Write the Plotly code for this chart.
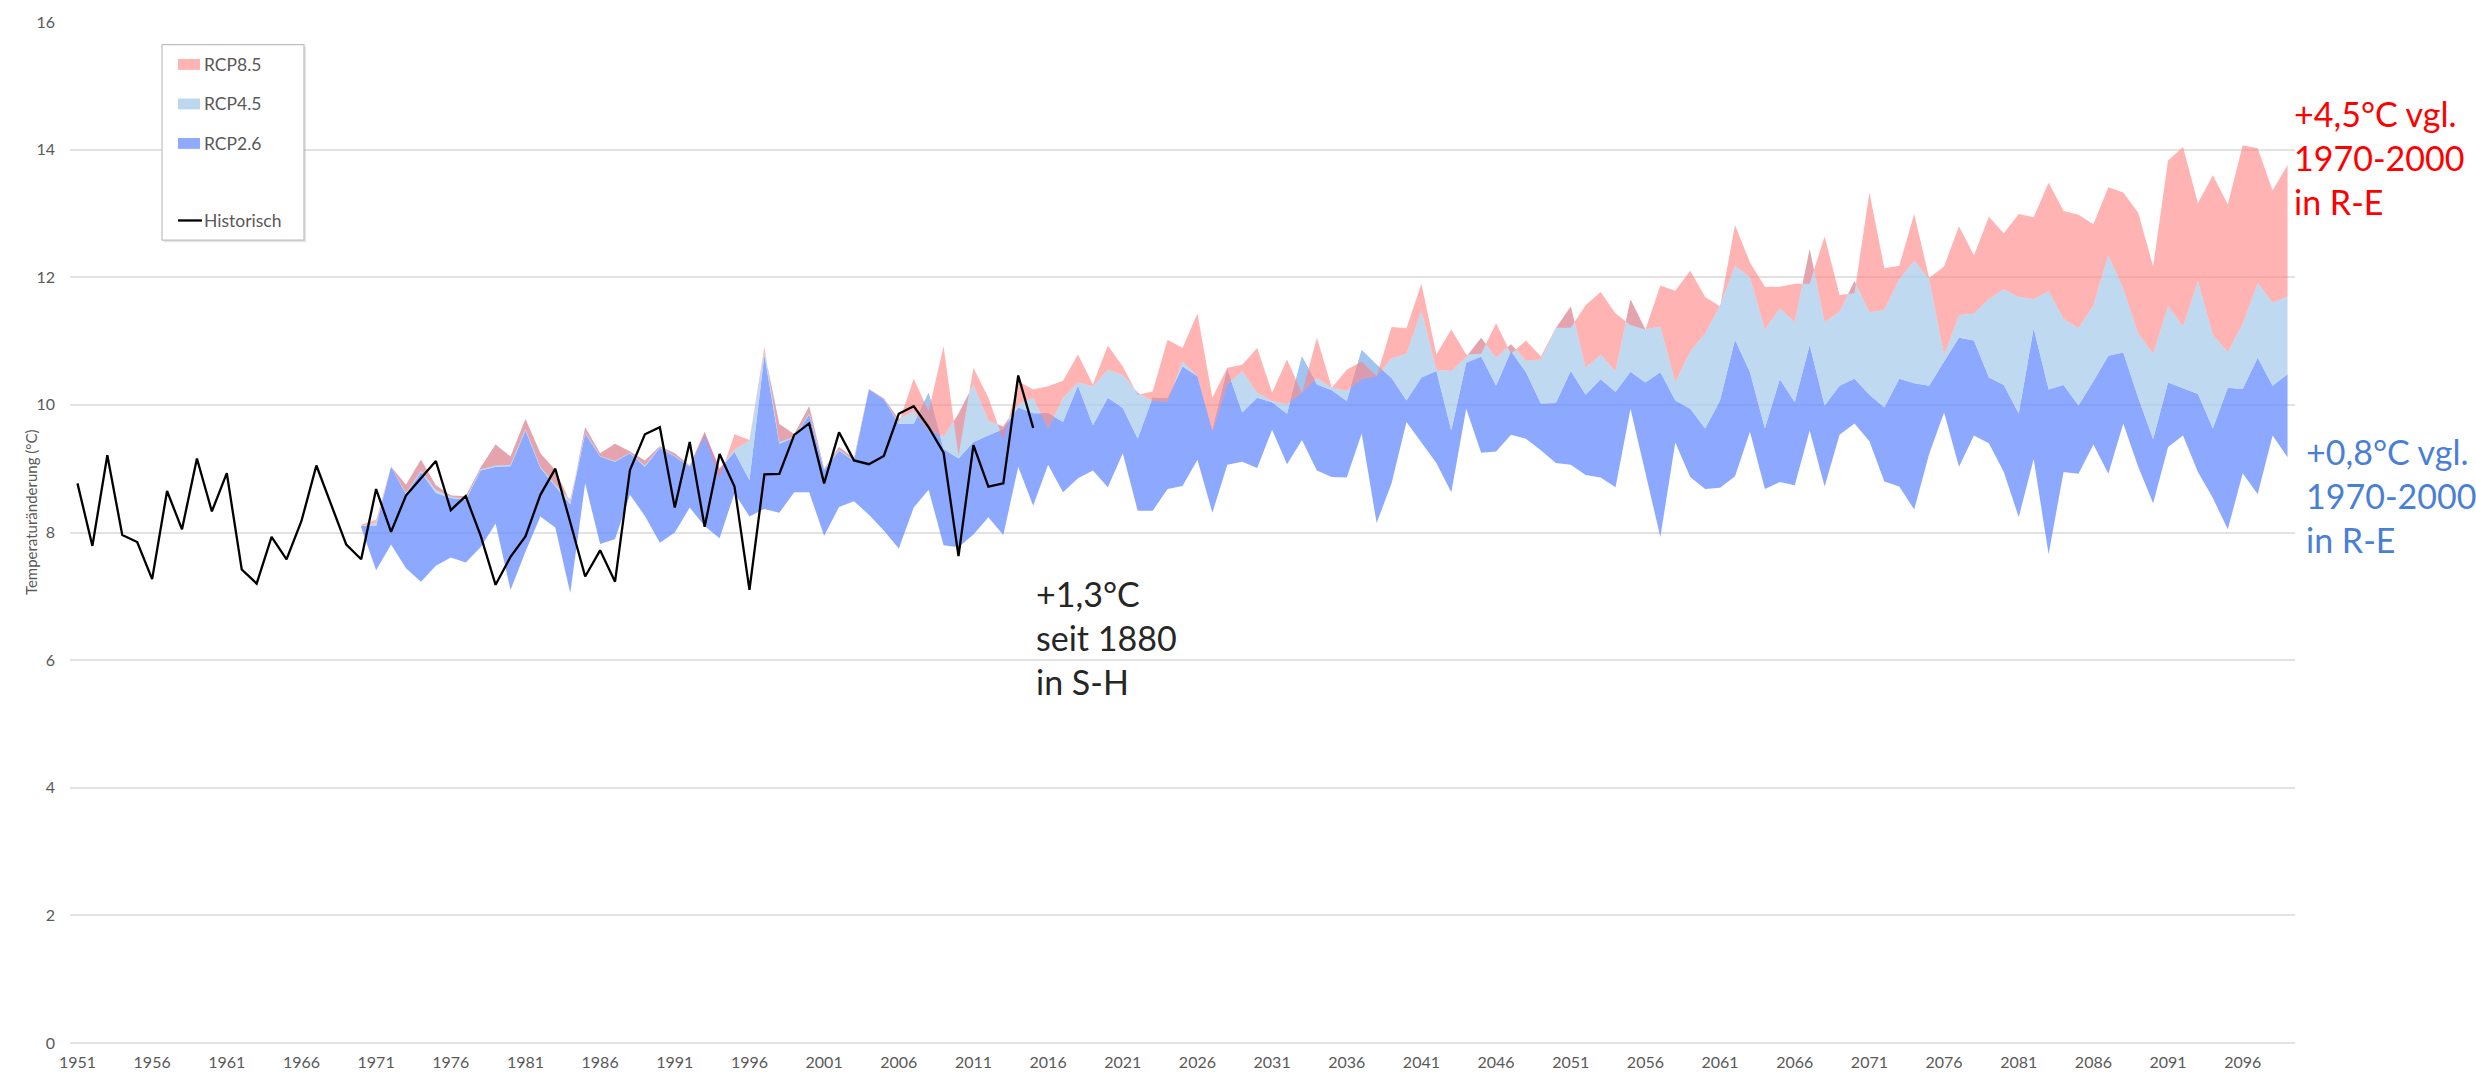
import plotly.graph_objects as go

# ---------------- data ----------------
hist_years = list(range(1951, 2016))
hist_values = [
    8.77, 7.79, 9.21, 7.96, 7.85, 7.27, 8.65, 8.05, 9.16, 8.33,
    8.93, 7.42, 7.20, 7.93, 7.58, 8.18, 9.05, 8.42, 7.81, 7.58,
    8.68, 8.01, 8.58, 8.85, 9.12, 8.35, 8.57, 7.95, 7.18, 7.62,
    7.94, 8.59, 9.00, 8.16, 7.31, 7.72, 7.23, 8.98, 9.54, 9.65,
    8.39, 9.42, 8.09, 9.23, 8.72, 7.10, 8.91, 8.92, 9.53, 9.71,
    8.77, 9.57, 9.13, 9.07, 9.20, 9.86, 9.98, 9.65, 9.25, 7.63,
    9.37, 8.72, 8.77, 10.46, 9.64,
]

band_years = list(range(1970, 2100))

# stacked edges (Excel stacked area): base = lower bound of RCP2.6,
# then top of RCP2.6 layer, top of RCP4.5 layer, top of RCP8.5 layer
rcp26_lower = [
    8.08, 7.41, 7.81, 7.44, 7.23, 7.48, 7.61, 7.53, 7.77, 8.14,
    7.10, 7.70, 8.25, 8.08, 7.05, 8.77, 7.82, 7.90, 8.59, 8.26,
    7.84, 8.00, 8.39, 8.10, 7.91, 8.62, 8.25, 8.37, 8.31, 8.63,
    8.63, 7.95, 8.40, 8.49, 8.28, 8.03, 7.75, 8.39, 8.67, 7.80,
    7.77, 7.97, 8.24, 7.96, 9.03, 8.42, 9.06, 8.63, 8.85, 8.97,
    8.71, 9.24, 8.34, 8.34, 8.68, 8.73, 9.14, 8.31, 9.06, 9.11,
    9.01, 9.61, 9.07, 9.45, 8.97, 8.87, 8.86, 9.55, 8.15, 8.77,
    9.73, 9.40, 9.09, 8.63, 9.94, 9.25, 9.27, 9.53, 9.47, 9.29,
    9.09, 9.06, 8.90, 8.86, 8.71, 9.94, 8.96, 7.93, 9.41, 8.87,
    8.68, 8.70, 8.88, 9.58, 8.68, 8.79, 8.74, 9.60, 8.72, 9.53,
    9.71, 9.43, 8.80, 8.72, 8.36, 9.23, 9.88, 9.03, 9.52, 9.40,
    8.95, 8.24, 9.15, 7.66, 8.95, 8.92, 9.38, 8.92, 9.71, 9.03,
    8.46, 9.34, 9.52, 8.95, 8.54, 8.05, 8.93, 8.60, 9.52, 9.18,
]
rcp26_upper = [
    8.10, 8.10, 9.03, 8.60, 8.95, 8.62, 8.54, 8.51, 8.97, 9.03,
    9.04, 9.60, 9.01, 8.72, 8.44, 9.55, 9.19, 9.11, 9.24, 9.03,
    9.33, 9.19, 9.03, 9.55, 9.00, 9.26, 8.82, 10.78, 9.39, 9.49,
    9.85, 8.98, 9.28, 9.12, 10.24, 10.09, 9.70, 9.70, 10.19, 9.31,
    9.16, 9.42, 9.52, 9.62, 9.96, 9.87, 9.87, 9.73, 10.30, 9.68,
    10.11, 9.95, 9.47, 10.11, 10.10, 10.60, 10.45, 9.60, 10.55, 9.88,
    10.11, 10.04, 9.86, 10.76, 10.32, 10.23, 10.06, 10.86, 10.63, 10.42,
    10.07, 10.43, 10.53, 9.60, 10.66, 10.76, 10.30, 10.84, 10.51, 10.02,
    10.03, 10.53, 10.16, 10.40, 10.20, 10.52, 10.35, 10.51, 10.07, 9.94,
    9.63, 10.07, 11.02, 10.51, 9.63, 10.40, 10.04, 10.94, 9.99, 10.30,
    10.41, 10.16, 9.96, 10.41, 10.34, 10.30, 10.68, 11.05, 11.01, 10.43,
    10.31, 9.86, 11.20, 10.24, 10.31, 9.99, 10.37, 10.77, 10.82, 10.11,
    9.46, 10.35, 10.26, 10.17, 9.63, 10.27, 10.25, 10.74, 10.30, 10.48,
]
rcp45_upper = [
    8.10, 8.15, 9.03, 8.75, 9.14, 8.74, 8.58, 8.57, 9.02, 9.38,
    9.19, 9.78, 9.24, 8.98, 8.47, 9.65, 9.24, 9.39, 9.27, 9.13,
    9.35, 9.24, 9.05, 9.58, 9.00, 9.30, 9.44, 10.84, 9.70, 9.54,
    9.98, 9.00, 9.34, 9.16, 10.25, 10.10, 9.78, 9.90, 9.60, 9.50,
    9.86, 10.32, 9.75, 9.66, 10.01, 10.11, 9.62, 10.11, 10.35, 10.29,
    10.55, 10.47, 10.19, 10.06, 10.05, 10.68, 10.45, 9.57, 10.32, 10.53,
    10.19, 10.06, 10.01, 10.19, 10.42, 10.27, 10.22, 10.40, 10.45, 10.73,
    10.80, 11.48, 10.55, 10.53, 10.75, 11.05, 10.74, 10.95, 10.69, 10.71,
    11.20, 11.54, 10.58, 10.79, 10.53, 11.65, 11.18, 11.23, 10.35, 10.84,
    11.12, 11.56, 12.18, 12.00, 11.18, 11.51, 11.30, 12.44, 11.30, 11.46,
    11.94, 11.45, 11.49, 11.97, 12.26, 11.97, 10.78, 11.41, 11.43, 11.66,
    11.81, 11.69, 11.66, 11.78, 11.35, 11.20, 11.56, 12.35, 11.82, 11.12,
    10.80, 11.55, 11.23, 11.94, 11.10, 10.83, 11.27, 11.91, 11.60, 11.70,
]
rcp85_upper = [
    8.12, 8.20, 9.03, 8.62, 8.97, 8.67, 8.56, 8.53, 8.99, 9.05,
    9.06, 9.62, 9.03, 8.75, 8.52, 9.57, 9.20, 9.12, 9.25, 9.05,
    9.34, 9.20, 9.04, 9.50, 8.85, 9.54, 9.45, 10.91, 9.42, 9.50,
    9.87, 8.99, 9.30, 9.13, 10.24, 10.09, 9.72, 10.41, 9.90, 10.92,
    9.20, 10.58, 10.11, 9.45, 10.37, 10.24, 10.29, 10.38, 10.79, 10.32,
    10.93, 10.60, 10.16, 10.21, 11.02, 10.89, 11.43, 10.11, 10.58, 10.63,
    10.89, 10.19, 10.71, 10.18, 11.05, 10.27, 10.55, 10.68, 10.45, 11.22,
    11.20, 11.90, 10.79, 11.18, 10.79, 10.80, 11.28, 10.80, 11.01, 10.76,
    11.21, 11.21, 11.56, 11.77, 11.43, 11.25, 11.18, 11.87, 11.79, 12.10,
    11.69, 11.54, 12.82, 12.23, 11.85, 11.85, 11.90, 11.90, 12.64, 11.72,
    11.75, 13.33, 12.14, 12.18, 12.99, 11.99, 12.17, 12.80, 12.34, 12.95,
    12.69, 12.99, 12.94, 13.48, 13.04, 12.98, 12.83, 13.41, 13.33, 13.01,
    12.17, 13.83, 14.04, 13.16, 13.60, 13.14, 14.07, 14.02, 13.36, 13.76,
]

tick_years = list(range(1951, 2100, 5))
tick_labels = [str(y) for y in tick_years]

legend_names = ["RCP8.5", "RCP4.5", "RCP2.6", "Historisch"]

# ---------------- styles ----------------
C_26 = "rgba(96,135,255,0.72)"
C_45 = "rgba(170,205,235,0.75)"
C_85 = "rgba(255,128,128,0.60)"
GRAY = "#595959"
TICKFONT = "Liberation Sans Narrow, Arial Narrow, Lato, sans-serif"
TEXTFONT = "Lato, Open Sans, sans-serif"

W, H = 2476, 1083
ML, MR, MT, MB = 70, 181, 13, 36
PW, PH = W - ML - MR, H - MT - MB


def px(xp):
    return (xp - ML) / PW


def py(yp):
    return (H - MB - yp) / PH


fig = go.Figure()

fig.add_trace(go.Scatter(
    x=band_years, y=rcp26_lower, mode="lines", line=dict(width=0, color="rgba(0,0,0,0)"),
    hoverinfo="skip", showlegend=False))
fig.add_trace(go.Scatter(
    x=band_years, y=rcp26_upper, mode="lines", line=dict(width=0, color=C_26),
    fill="tonexty", fillcolor=C_26, name="RCP2.6", showlegend=False))
fig.add_trace(go.Scatter(
    x=band_years, y=rcp45_upper, mode="lines", line=dict(width=0, color=C_45),
    fill="tonexty", fillcolor=C_45, name="RCP4.5", showlegend=False))
fig.add_trace(go.Scatter(
    x=band_years, y=rcp85_upper, mode="lines", line=dict(width=0, color=C_85),
    fill="tonexty", fillcolor=C_85, name="RCP8.5", showlegend=False))
fig.add_trace(go.Scatter(
    x=hist_years, y=hist_values, mode="lines", line=dict(width=2.3, color="#000000"),
    name="Historisch", showlegend=False))

fig.update_layout(
    width=W, height=H,
    margin=dict(l=ML, r=MR, t=MT, b=MB),
    paper_bgcolor="white", plot_bgcolor="white",
    showlegend=False,
    xaxis=dict(
        range=[1950.5, 2099.5], showgrid=False, zeroline=False, showline=False,
        tickmode="array", tickvals=tick_years, ticktext=tick_labels, ticks="",
        tickfont=dict(family=TICKFONT, size=16, color=GRAY), ticklabelstandoff=8,
    ),
    yaxis=dict(
        range=[0, 16], dtick=2, tick0=0, showgrid=True, gridcolor="#e2e2e2", gridwidth=1.5,
        zeroline=True, zerolinecolor="#e2e2e2", zerolinewidth=1.5, showline=False, ticks="",
        tickfont=dict(family=TICKFONT, size=16, color=GRAY), ticklabelstandoff=14,
    ),
)

# ---- manual legend (box, symbols, labels) ----
box_l, box_t, box_r, box_b = 162, 36, 304, 234
fig.add_shape(type="rect", xref="paper", yref="paper", layer="above",
              x0=px(box_l + 2), x1=px(box_r + 2), y0=py(box_b + 2), y1=py(box_t + 2),
              line=dict(width=0), fillcolor="rgba(0,0,0,0.10)")
fig.add_shape(type="rect", xref="paper", yref="paper", layer="above",
              x0=px(box_l), x1=px(box_r), y0=py(box_b), y1=py(box_t),
              line=dict(width=1.2, color="#bfbfbf"), fillcolor="white")
sym_colors = ["#ffb3b3", "#bdd7ee", "#8faaff"]
sym_y = [56, 96, 136]
for name, col, yc in zip(legend_names[:3], sym_colors, sym_y):
    fig.add_shape(type="rect", xref="paper", yref="paper", layer="above",
                  x0=px(178), x1=px(200), y0=py(yc + 5.5), y1=py(yc - 5.5),
                  line=dict(width=0), fillcolor=col)
    fig.add_annotation(text=name, xref="paper", yref="paper", x=px(202), y=py(yc),
                       xanchor="left", yanchor="middle", showarrow=False,
                       font=dict(family=TEXTFONT, size=17.5, color=GRAY))
fig.add_shape(type="line", xref="paper", yref="paper", layer="above",
              x0=px(178), x1=px(202), y0=py(214), y1=py(214),
              line=dict(width=2.3, color="#000000"))
fig.add_annotation(text=legend_names[3], xref="paper", yref="paper", x=px(202), y=py(214),
                   xanchor="left", yanchor="middle", showarrow=False,
                   font=dict(family=TEXTFONT, size=17.5, color=GRAY))

# ---- titles / notes ----
fig.add_annotation(
    text="Temperaturänderung (°C)", xref="paper", yref="paper", x=px(20), y=0.52,
    textangle=-90, showarrow=False, font=dict(family=TEXTFONT, size=15, color=GRAY))
fig.add_annotation(
    text="+4,5°C vgl.<br>1970-2000<br>in R-E", xref="paper", yref="y", x=px(2292), y=13.88,
    xanchor="left", yanchor="middle", align="left", showarrow=False,
    font=dict(family=TEXTFONT, size=34, color="#ff0000"))
fig.add_annotation(
    text="+0,8°C vgl.<br>1970-2000<br>in R-E", xref="paper", yref="y", x=px(2304), y=8.58,
    xanchor="left", yanchor="middle", align="left", showarrow=False,
    font=dict(family=TEXTFONT, size=34, color="#4a7fd6"))
fig.add_annotation(
    text="+1,3°C<br>seit 1880<br>in S-H", xref="paper", yref="y", x=px(1034), y=6.35,
    xanchor="left", yanchor="middle", align="left", showarrow=False,
    font=dict(family=TEXTFONT, size=34, color="#262626"))

fig.write_html("out.html", config={"displayModeBar": False},
               post_script="document.body.style.margin='0px';")
